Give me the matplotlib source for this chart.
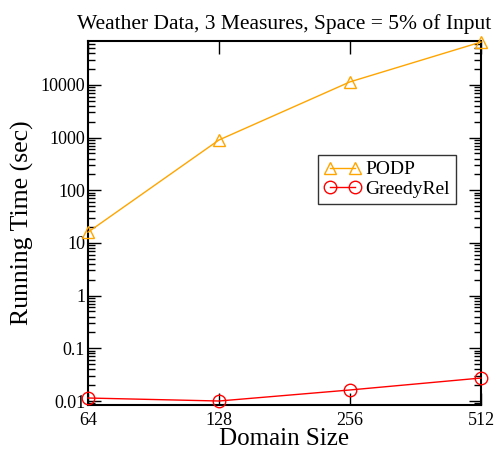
import matplotlib
matplotlib.use("Agg")
import matplotlib.pyplot as plt
from matplotlib.ticker import LogLocator, NullFormatter, FixedLocator, FixedFormatter

plt.rcParams['font.family'] = ['Liberation Serif', 'DejaVu Serif']

# domain sizes and running times (seconds)
domain = [64, 128, 256, 512]
domain_labels = ["64", "128", "256", "512"]
podp = [16, 900, 11400, 65000]
greedy = [0.0114, 0.0100, 0.0162, 0.0273]

fig = plt.figure(figsize=(4.98, 4.5), dpi=100)
ax = fig.add_axes([88 / 498, 1 - 405 / 450, (481 - 88) / 498, (405 - 41) / 450])

ax.plot(domain, podp, color="orange", lw=1, marker="^", ms=9,
        mfc="none", mec="orange", mew=1, label="PODP", clip_on=False, zorder=3)
ax.plot(domain, greedy, color="red", lw=1, marker="o", ms=9,
        mfc="none", mec="red", mew=1, label="GreedyRel", clip_on=False, zorder=3)

ax.set_xscale("log", base=2)
ax.set_yscale("log")
ax.set_xlim(64, 512)
ax.set_ylim(0.0084, 68000)

ax.xaxis.set_major_locator(FixedLocator(domain))
ax.xaxis.set_major_formatter(FixedFormatter(domain_labels))
ax.xaxis.set_minor_locator(FixedLocator([]))

yt = [0.01, 0.1, 1, 10, 100, 1000, 10000]
ax.yaxis.set_major_locator(FixedLocator(yt))
ax.yaxis.set_major_formatter(FixedFormatter(["0.01", "0.1", "1", "10", "100", "1000", "10000"]))
ax.yaxis.set_minor_locator(LogLocator(base=10, subs=range(2, 10), numticks=20))
ax.yaxis.set_minor_formatter(NullFormatter())

ax.tick_params(which="both", direction="in", top=True, right=True, width=1, labelsize=13)
ax.tick_params(which="major", length=9)
ax.tick_params(which="minor", length=5)
ax.tick_params(axis="x", pad=5)
ax.tick_params(axis="y", pad=2)
for s in ax.spines.values():
    s.set_linewidth(1.5)

ax.set_xlabel("Domain Size", fontsize=18, labelpad=-1)
ax.set_ylabel("Running Time (sec)", fontsize=18.5, labelpad=5)
ax.set_title("Weather Data, 3 Measures, Space = 5% of Input", fontsize=15.5, pad=9)

leg = ax.legend(loc="upper left", bbox_to_anchor=(318 / 498, 1 - 155 / 450),
                bbox_transform=fig.transFigure, fontsize=14, fancybox=False,
                frameon=True, edgecolor="black", numpoints=2, handlelength=1.9,
                handletextpad=0.25, borderpad=0.3, labelspacing=0.1, borderaxespad=0)
leg.get_frame().set_linewidth(1)

fig.savefig("out.png", dpi=100)
